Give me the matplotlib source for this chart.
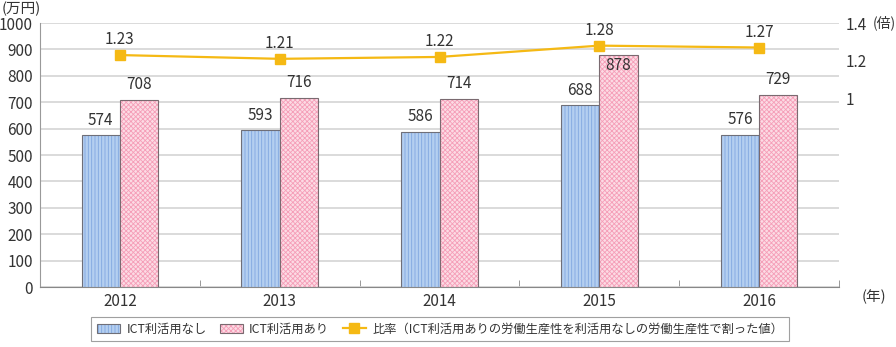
import numpy as np
import matplotlib.pyplot as plt

plt.rcParams['font.family'] = ['Noto Sans CJK JP', 'DejaVu Sans']
plt.rcParams['hatch.linewidth'] = 0.6

years = ['2012', '2013', '2014', '2015', '2016']
ict_none = [574, 593, 586, 688, 576]
ict_used = [708, 716, 714, 878, 729]
ratio = [1.23, 1.21, 1.22, 1.28, 1.27]

txt = '#333333'
fs = 11
fig = plt.figure(figsize=(8.96, 3.47), dpi=100)
ax = fig.add_axes([40 / 896, 1 - 287 / 347, 799 / 896, 264 / 347])

x = np.arange(len(years))
w = 0.24

b1 = ax.bar(x - w / 2, ict_none, w, color='#b4cff0', edgecolor='#6f6f78',
            linewidth=0.8, hatch='|||||', zorder=3)
b2 = ax.bar(x + w / 2, ict_used, w, color='#fcdbe4', edgecolor='#7a6a70',
            linewidth=0.8, hatch='xxxxxxx', zorder=3)
for b in b1:
    b._hatch_color = (0.5, 0.65, 0.88, 1)
for b in b2:
    b._hatch_color = (0.96, 0.62, 0.72, 1)

# 棒の上の数値
for xi, v in zip(x, ict_none):
    ax.text(xi - w / 2, v + 26, str(v), ha='center', va='bottom', fontsize=fs, color=txt, zorder=5)
for xi, v in zip(x, ict_used):
    if v > 850:
        ax.text(xi + w / 2, v - 8, str(v), ha='center', va='top', fontsize=fs, color=txt, zorder=5)
    else:
        ax.text(xi + w / 2, v + 26, str(v), ha='center', va='bottom', fontsize=fs, color=txt, zorder=5)

ax.set_xlim(-0.5, len(years) - 0.5)
ax.set_ylim(0, 1000)
ax.set_yticks(np.arange(0, 1001, 100))
ax.yaxis.grid(True, color='#d4d4d4', linewidth=1.2, zorder=0)
ax.set_axisbelow(True)
ax.set_xticks(x)
ax.set_xticklabels(years)
ax.set_xticks(np.arange(0.5, len(years), 1), minor=True)
ax.tick_params(axis='x', which='major', length=0, pad=4, labelsize=fs, labelcolor=txt)
ax.tick_params(axis='x', which='minor', length=5, direction='in', color='#888888')
ax.tick_params(axis='y', length=0, pad=5, labelsize=fs, labelcolor=txt)
for s in ['top', 'right']:
    ax.spines[s].set_visible(False)
ax.spines['left'].set_color('#999999')
ax.spines['bottom'].set_color('#888888')

# 比率（右軸）
ax2 = ax.twinx()
ax2.set_ylim(0, 1.4)
ax2.set_yticks([1, 1.2, 1.4])
ax2.set_yticklabels(['1', '1.2', '1.4'])
ax2.tick_params(axis='y', length=0, pad=5, labelsize=fs, labelcolor=txt)
for s in ax2.spines.values():
    s.set_visible(False)
line, = ax2.plot(x, ratio, color='#f5b914', linewidth=1.6, marker='s',
                 markersize=7, zorder=4)
for xi, v in zip(x, ratio):
    ax2.text(xi, v + 0.035, f'{v:.2f}', ha='center', va='bottom', fontsize=fs, color=txt)

fig.text(2 / 896, 1 - 9 / 347, '(万円)', ha='left', va='center', fontsize=fs - 0.5, color=txt)
fig.text(873 / 896, 1 - 23 / 347, '(倍)', ha='left', va='center', fontsize=fs - 1, color=txt)
fig.text(862 / 896, 1 - 297 / 347, '(年)', ha='left', va='center', fontsize=fs - 0.5, color=txt)

leg = fig.legend([b1, b2, line],
                 ['ICT利活用なし', 'ICT利活用あり',
                  '比率（ICT利活用ありの労働生産性を利活用なしの労働生産性で割った値）'],
                 loc='center', bbox_to_anchor=(440 / 896, 1 - 329 / 347), ncol=3,
                 fancybox=False, edgecolor='#888888', fontsize=8.8,
                 handlelength=1.9, handleheight=0.8, handletextpad=0.5,
                 columnspacing=1.1, borderpad=0.45, labelcolor=txt)
leg.get_frame().set_linewidth(0.8)

fig.savefig('out.png', dpi=100)
